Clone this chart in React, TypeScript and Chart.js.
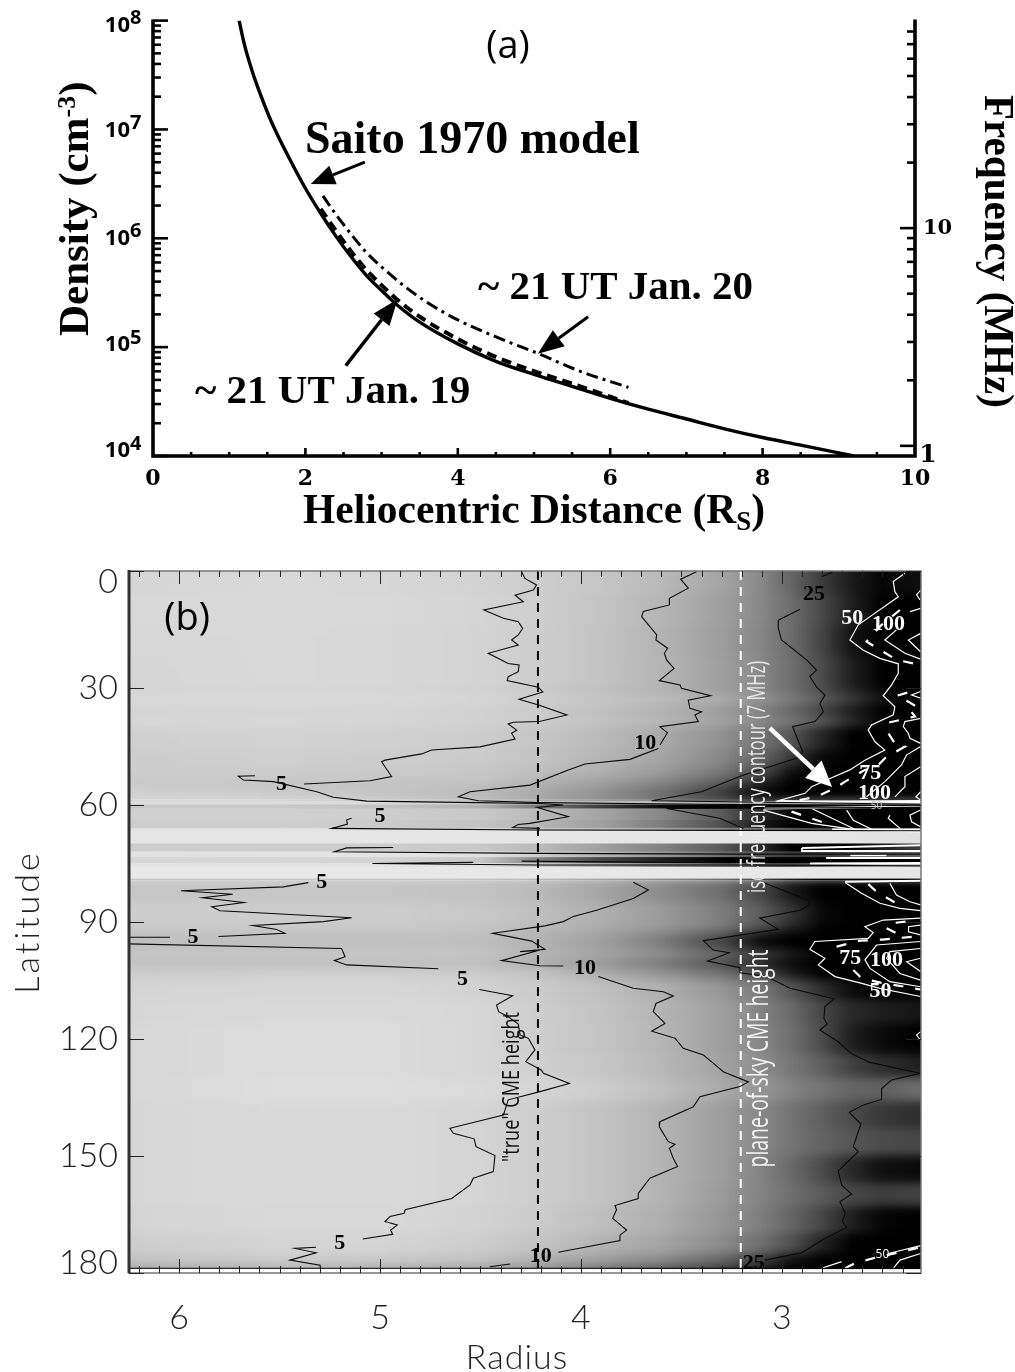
import React, { useEffect, useRef } from "react";
import { Chart, registerables } from "chart.js";

Chart.register(...registerables);

// ---------- Panel (a) data ----------
const saitoDistance = [1.13, 1.2, 1.3, 1.4, 1.5, 1.6, 1.8, 2.0, 2.2, 2.4, 2.6, 2.8, 3.0, 3.2, 3.5, 4.0, 4.5, 5.0, 5.5, 6.0, 6.5, 7.0, 7.5, 8.0, 8.5, 9.2];
const saitoLogDensity = [8.0, 7.78, 7.54, 7.34, 7.16, 7.0, 6.72, 6.46, 6.23, 6.02, 5.83, 5.66, 5.52, 5.39, 5.23, 5.03, 4.87, 4.75, 4.64, 4.53, 4.43, 4.34, 4.25, 4.17, 4.1, 4.0];
const jan19Distance = [2.2, 2.4, 2.6, 2.8, 3.0, 3.2, 3.5, 4.0, 4.5, 5.0, 5.5, 6.0, 6.24];
const jan19LogDensity = [6.27, 6.07, 5.88, 5.71, 5.57, 5.44, 5.28, 5.075, 4.91, 4.78, 4.665, 4.545, 4.485];
const jan20Distance = [2.23, 2.4, 2.62, 2.8, 3.06, 3.3, 3.6, 4.0, 4.55, 5.06, 5.6, 6.24];
const jan20LogDensity = [6.39, 6.22, 6.02, 5.87, 5.7, 5.56, 5.41, 5.25, 5.08, 4.94, 4.78, 4.63];
const densityTicks = [1e4, 1e5, 1e6, 1e7, 1e8];
const densityExponents = ["4", "5", "6", "7", "8"];
const distanceTicks = [0, 2, 4, 6, 8, 10];
const frequencyTicks = [1, 10];

// ---------- Panel (b) data ----------
const radiusTicks = [6, 5, 4, 3];
const latitudeTicks = [0, 30, 60, 90, 120, 150, 180];
const heatRadius = [6.25, 5.5, 5, 4.5, 4.2, 3.9, 3.6, 3.3, 3.1, 2.95, 2.8, 2.65, 2.5, 2.31];
const heatLat = [0, 6, 14, 22, 30, 32, 34, 38, 40, 46, 50, 53, 55, 57, 59, 60, 61, 64, 66, 66.6, 70, 72, 73.5, 75, 76, 79, 85, 91, 93, 97, 100, 102, 105, 110, 116, 124, 130, 136, 143, 150, 157, 163, 170, 175, 178];
const heatGray = [
  [214,216,215,210,205,198,185,165,135,100,60,25,5,15],
  [216,217,216,212,206,196,182,160,135,108,72,30,0,0],
  [215,216,215,211,205,195,180,158,132,108,68,18,0,0],
  [214,216,215,211,205,195,181,160,135,110,75,30,0,0],
  [212,214,213,209,203,192,180,160,135,110,78,40,8,0],
  [218,220,218,214,208,198,190,175,150,125,95,60,20,0],
  [212,214,213,209,203,192,180,158,130,105,70,30,0,0],
  [215,216,214,210,205,195,183,165,140,120,95,45,5,0],
  [208,210,208,205,197,186,170,145,115,85,35,0,0,0],
  [205,207,205,203,195,182,165,135,100,55,8,0,0,0],
  [205,205,203,200,190,176,155,120,75,15,0,0,0,0],
  [200,198,198,195,180,162,135,95,40,0,0,0,0,0],
  [205,200,195,188,172,150,120,70,15,0,0,0,0,0],
  [212,208,200,185,165,140,100,50,5,0,0,0,0,0],
  [220,220,218,205,190,185,190,170,140,180,190,190,190,190],
  [200,200,195,180,120,60,10,0,0,0,0,0,0,0],
  [208,208,206,200,185,165,135,90,40,5,0,0,0,0],
  [206,206,204,196,180,160,125,80,25,0,0,0,0,0],
  [225,225,222,215,200,190,170,140,110,90,70,70,70,70],
  [230,230,230,230,230,230,230,230,230,230,230,228,225,225],
  [205,205,205,200,185,160,130,90,40,0,0,0,30,60],
  [225,228,228,226,205,180,150,110,80,60,60,80,90,100],
  [215,215,212,200,130,70,30,0,0,0,0,0,0,0],
  [228,228,228,225,200,170,130,100,80,70,100,150,200,200],
  [232,232,232,232,232,232,232,232,232,232,232,232,230,230],
  [198,198,198,195,185,165,140,110,70,25,0,0,0,0],
  [205,205,205,200,190,175,155,125,90,50,8,0,0,0],
  [200,200,200,196,185,170,150,115,70,25,0,0,0,0],
  [192,192,192,190,178,160,125,70,10,0,0,0,0,0],
  [198,198,198,195,180,165,140,100,60,25,0,0,0,0],
  [192,192,190,188,172,150,118,75,35,5,0,0,0,0],
  [205,208,208,205,195,175,150,115,75,30,0,0,0,0],
  [212,214,214,210,203,192,176,150,120,85,45,10,0,0],
  [214,218,218,214,205,195,180,160,130,105,70,40,30,20],
  [216,220,220,214,205,196,182,160,135,110,75,30,10,0],
  [216,220,220,214,207,198,184,162,140,118,95,65,45,30],
  [216,222,222,218,212,205,190,170,150,130,115,100,95,110],
  [214,218,218,212,205,195,180,158,135,115,95,75,55,45],
  [214,218,218,212,205,195,180,158,135,115,98,85,75,70],
  [214,218,218,212,205,195,180,158,130,105,75,40,15,10],
  [214,218,218,212,205,195,180,155,130,110,90,70,60,65],
  [212,216,216,210,203,190,175,150,125,100,70,30,5,0],
  [205,212,212,205,195,180,165,140,110,80,35,0,0,0],
  [195,205,202,195,178,160,140,105,65,20,0,0,0,0],
  [170,180,175,165,145,120,90,60,25,0,0,0,0,0],
];

type P = [number, number];
const contour5a: P[] = [[4.295,0.2],[4.279,1.9],[4.221,3.6],[4.237,4.9],[4.328,6.2],[4.287,7.9],[4.483,10],[4.386,12.1],[4.312,13],[4.29,14.7],[4.312,16.4],[4.345,17.7],[4.312,19],[4.461,21.1],[4.362,23.7],[4.308,24.1],[4.312,25.8],[4.362,27.1],[4.367,28.1],[4.212,29.8],[4.19,31],[4.308,32.9],[4.207,34.4],[4.07,36.9],[4.207,38.6],[4.337,38.8],[4.362,39.2],[4.32,40.8],[4.345,41.6],[4.328,43.1],[4.503,45.1],[4.743,45.9],[4.793,46.9],[4.975,48.5],[4.992,48.9],[4.942,52.7],[5.05,53.8],[5.378,54.6]];
const contour5b: P[] = [[5.622,52.5],[5.705,52.6],[5.68,53.6],[5.53,54],[5.315,56.6],[5.232,58],[5.066,59],[4.519,59.4],[4.204,59.6],[4.088,60],[4.22,60.6],[4.063,63],[4.254,64.7],[4.312,65],[4.34,65.8],[4.204,66]];
const contour5c: P[] = [[5.141,63.4],[5.166,63.8],[5.162,64.9],[5.24,66],[4.22,66.4],[3.2,66.5],[2.31,66.6]];
const contour5d: P[] = [[4.934,70.9],[5.166,71],[5.227,72],[4.204,72.4],[3.2,72.6],[2.31,72.6]];
const contour5e: P[] = [[4.536,74.7],[5.038,75],[4.22,75.4],[3.192,75.4],[2.31,75.6]];
const contour5f: P[] = [[4.295,74.4],[3.258,74.8]];
const contour5g: P[] = [[5.357,79.9],[5.481,81],[5.99,82],[5.733,82.9],[5.882,83.8],[5.677,85],[5.837,86.1],[5.796,87.1],[5.141,88.9],[5.282,89.9],[5.633,90.9],[5.514,91.9],[5.473,92.9],[5.804,93.7]];
const contour5h: P[] = [[6.045,93.9],[6.25,93.9]];
const contour5i: P[] = [[6.25,95.6],[5.191,96.8],[5.174,98.9],[5.227,99.9],[5.166,101],[4.71,102]];
const contour5j: P[] = [[4.506,107.3],[4.34,108.9],[4.42,111.3],[4.41,113],[4.362,114.3],[4.312,116.2],[4.303,119],[4.262,119.8],[4.229,122.8],[4.275,125.8],[4.196,128],[4.187,128.8],[4.058,131.4],[4.204,133.5],[4.362,135.6],[4.386,139.5],[4.652,142.9],[4.635,144.2],[4.532,145.6],[4.522,147.6],[4.428,149.9],[4.436,154],[4.536,155.7],[4.552,157.4],[4.643,160.9],[4.875,163.8],[4.88,164.7],[4.95,165.5],[4.975,166.8],[4.914,167.7],[4.947,169],[4.937,170.1],[5.086,171.3]];
const contour5k: P[] = [[5.318,173.4],[5.423,173.7],[5.318,174.8],[5.448,176.7],[5.298,178],[5.298,178.6]];
const contour10a: P[] = [[3.425,0.2],[3.504,2.1],[3.466,4.4],[3.56,7],[3.56,8.7],[3.69,10.4],[3.698,11.7],[3.623,16.4],[3.627,17.7],[3.569,19.8],[3.585,21.1],[3.574,22.8],[3.537,25],[3.61,28.1],[3.507,29.2],[3.5,30.1],[3.355,32],[3.466,33.1],[3.458,35.2],[3.4,36.1],[3.433,36.9],[3.416,38.6],[3.607,39.9],[3.57,41.5],[3.607,44.6]];
const contour10b: P[] = [[3.615,45.5],[3.756,48.3],[3.98,49.5],[4.063,51],[4.254,54.9],[4.552,56.6],[4.61,57.9],[4.511,58.9],[4.204,59.4],[3.4,59.8],[2.31,60.2]];
const contour10c: P[] = [[2.31,60.6],[3.574,60.9],[3.309,63.4],[3.192,66]];
const contour10d: P[] = [[3.74,79.8],[3.665,81.8],[3.74,84],[3.922,87],[4.038,88.6],[4.088,89.9],[4.179,91],[4.439,92.9],[4.245,94.9],[4.179,97],[4.303,97.6],[4.204,97.2],[4.395,99.9],[4.204,101.2],[4.088,101.3]];
const contour10e: P[] = [[3.914,104],[3.74,107],[3.59,107.9],[3.541,109],[3.627,110.9],[3.64,113],[3.582,116],[3.648,118],[3.532,119.8],[3.491,122.4],[3.391,124.1],[3.342,126.2],[3.292,128.4],[3.167,131],[3.209,132.2],[3.408,134.8],[3.441,137.4],[3.607,141.2],[3.61,142.5],[3.566,146.3],[3.532,147],[3.56,148],[3.541,150.6],[3.519,152.7],[3.657,155.7],[3.715,159.6],[3.715,160.9],[3.831,162.7],[3.823,163.8],[3.842,166],[3.773,169],[3.806,170.3],[3.806,171.7],[4.113,174.7]];
const contour10f: P[] = [[4.353,177.7],[4.453,178.4]];
const contour25a: P[] = [[2.745,0.2],[2.803,1.5]];
const contour25b: P[] = [[2.91,9.8],[3.018,12.6],[3.018,14.7],[3.002,17.7],[2.877,22.8],[2.828,25.4],[2.861,27.1],[2.828,29.7],[2.786,31.8],[2.811,34],[2.794,36.1],[2.836,38.6],[2.947,39.9],[2.927,42.5],[2.897,46.3],[2.927,48],[3.192,52.3],[3.4,56.6],[3.648,58.9],[2.595,59.6],[2.31,59.8]];
const contour25c: P[] = [[3.093,79.9],[2.869,84.4],[2.861,85.6],[2.91,87],[3.11,89],[3.018,91.9],[3.391,94.8],[3.342,97.2],[3.262,97.9],[3.37,100],[3.209,101.7],[3.209,103],[3.076,104],[2.96,107],[2.741,109.7],[2.786,111.7],[2.791,114.7],[2.775,116.2],[2.811,117.7],[2.72,120.7],[2.653,123.8],[2.562,126],[2.313,128.8],[2.454,130.5],[2.504,132.7],[2.504,135.5],[2.595,136.9],[2.665,138.8],[2.607,141.8],[2.645,147.6],[2.62,148.9],[2.72,153.8],[2.703,157.4],[2.654,159.8],[2.711,161.7],[2.686,164.7],[2.698,166.8],[2.678,168.3],[2.794,171.4],[2.902,174.8],[3.085,176.7]];
const bottomEdge: P[] = [[6.25,178.8],[2.31,178.8]];
const blackContours: P[][] = [contour5a, contour5b, contour5c, contour5d, contour5e, contour5f, contour5g, contour5h, contour5i, contour5j, contour5k, contour10a, contour10b, contour10c, contour10d, contour10e, contour10f, contour25a, contour25b, contour25c, bottomEdge];

const white50a: P[] = [[2.388,0.6],[2.446,2.7],[2.438,5.3],[2.421,6.6],[2.479,8.7],[2.537,10.8],[2.62,13.8],[2.662,17.7],[2.595,20.3],[2.513,22.4],[2.421,23.8],[2.421,26.2],[2.454,29.2],[2.496,32],[2.438,34.8],[2.446,36.9],[2.554,39.5],[2.571,40.8],[2.537,43.8],[2.488,45.9],[2.587,48.5],[2.662,51],[2.761,53.2],[2.852,55.3],[2.885,57],[3.018,58.9],[2.31,59.4]];
const white100a: P[] = [[2.43,15.1],[2.488,17.7],[2.388,21.1],[2.31,22.6]];
const white100b: P[] = [[2.31,16],[2.371,17.7],[2.31,20.7]];
const white100c: P[] = [[2.31,9.6],[2.363,10.4]];
const white100d: P[] = [[2.31,4.9],[2.33,6.1],[2.313,7.4]];
const white100e: P[] = [[2.31,30.9],[2.355,31.8],[2.31,32.6]];
const white100f: P[] = [[2.31,37.8],[2.388,38.6],[2.396,39.9],[2.371,41.6],[2.363,42.9],[2.31,44.2]];
const white100g: P[] = [[2.31,45],[2.38,47.2],[2.405,49.7],[2.488,54],[2.579,57.9]];
const white100h: P[] = [[2.31,50.2],[2.388,52.7],[2.388,55.3],[2.438,57.9]];
const white100i: P[] = [[2.31,56.6],[2.333,57.9],[2.31,58.7]];
const white50b: P[] = [[3.093,61.3],[2.852,64.7],[2.629,66.4],[2.31,66.9]];
const white100j: P[] = [[2.852,60.9],[2.629,66.4]];
const white100k: P[] = [[2.678,61.3],[2.645,63.9],[2.546,66.4]];
const white100l: P[] = [[2.463,62.6],[2.471,63.4],[2.413,66]];
const white100m: P[] = [[2.31,61.3],[2.363,62.6],[2.355,64.3],[2.31,65.6]];
const white50c: P[] = [[2.686,79.9],[2.604,82.65],[2.512,85.2],[2.413,86.5],[2.31,87.1]];
const white75c: P[] = [[2.463,80.1],[2.43,83.1],[2.363,84.8],[2.31,85.6]];
const white50d: P[] = [[2.31,89],[2.496,89.5],[2.587,91.2],[2.546,92.7],[2.571,94.2],[2.836,95],[2.861,97],[2.786,99.3],[2.819,101],[2.736,104],[2.612,105.6],[2.513,107],[2.31,109.1]];
const white75d: P[] = [[2.31,95],[2.529,95.9],[2.587,99.7],[2.562,101.9],[2.463,105.3],[2.31,106.6]];
const white100n: P[] = [[2.31,96.8],[2.463,97.6],[2.479,99.3],[2.413,103.2],[2.31,104.9]];
const white100o: P[] = [[2.31,99.3],[2.38,100.2],[2.31,102.7]];
const white100p: P[] = [[2.31,90.8],[2.37,91.2],[2.37,92.5],[2.31,93.3]];
const white50e: P[] = [[2.803,178.8],[2.703,177.1]];
const white50f: P[] = [[2.471,175],[2.31,173]];
const white50g: P[] = [[2.446,178.8],[2.413,176.7],[2.31,175]];
const white50h: P[] = [[2.31,118.1],[2.33,119],[2.31,120.3]];
const whiteContours: P[][] = [white50a, white100a, white100b, white100c, white100d, white100e, white100f, white100g, white100h, white100i, white50b, white100j, white100k, white100l, white100m, white50c, white75c, white50d, white75d, white100n, white100o, white100p, white50e, white50f, white50g, white50h];

const whiteStreakA: P[] = [[3.03,59.2],[2.31,59]];
const whiteStreakB: P[] = [[3.09,60.9],[2.31,60.4]];
const whiteStreakC: P[] = [[2.75,66.3],[2.31,66.3]];
const whiteStreakD: P[] = [[2.9,71],[2.31,70.3]];
const whiteStreakE: P[] = [[2.9,71],[2.9,71.8],[2.31,71.8]];
const whiteStreakF: P[] = [[2.66,72.9],[2.48,72.9]];
const whiteStreakG: P[] = [[2.78,73.6],[2.31,73.6]];
const whiteStreakH: P[] = [[2.86,75],[2.31,74.9]];
const whiteStreakI: P[] = [[2.686,79.7],[2.31,79.4]];
const whiteStreaks: P[][] = [whiteStreakA, whiteStreakB, whiteStreakC, whiteStreakD, whiteStreakE, whiteStreakF, whiteStreakG, whiteStreakH, whiteStreakI];

const dash75a: P[] = [[2.413,10],[2.504,13.8],[2.579,18.1],[2.429,22.8],[2.31,24.1]];
const dash75b: P[] = [[2.376,31.2],[2.429,32],[2.371,33.5],[2.33,34.8],[2.363,35.6],[2.338,37.3],[2.413,38.2],[2.471,38.9],[2.471,41.6],[2.438,44.2],[2.388,45],[2.487,48],[2.529,50.2],[2.587,51],[2.686,54],[2.736,55.7],[2.828,57.9],[2.93,58.9]];
const dash75c: P[] = [[2.952,61.7],[2.761,65.1]];
const dash75d: P[] = [[2.728,96.3],[2.612,94.8],[2.5,94.5],[2.31,93.6]];
const dash75e: P[] = [[2.645,102.3],[2.612,104],[2.554,105],[2.504,105.6],[2.31,107.3]];
const dash75f: P[] = [[2.479,91.6],[2.43,92.9]];
const dash75g: P[] = [[2.686,178.8],[2.637,177.5],[2.529,176],[2.31,173.4]];
const dash75h: P[] = [[2.57,80.3],[2.53,82.2],[2.471,84],[2.43,85.2]];
const dash75i: P[] = [[2.434,90.2],[2.38,89.9]];
const whiteDashed: P[][] = [dash75a, dash75b, dash75c, dash75d, dash75e, dash75f, dash75g, dash75h, dash75i];

const trueHeightRadius = 4.214;
const skyHeightRadius = 3.205;

const blackLabelRadius = [5.49, 5.0, 5.29, 5.93, 4.59, 5.2, 3.68, 3.98, 4.2, 2.84, 3.14];
const blackLabelLat = [54.6, 63, 79.7, 93.8, 104.6, 172.3, 44.1, 102, 175.7, 5.9, 177.4];
const blackLabelText = ["5", "5", "5", "5", "5", "5", "10", "10", "10", "25", "25"];
const whiteLabelRadius = [2.65, 2.47, 2.56, 2.54, 2.66, 2.48, 2.51];
const whiteLabelLat = [12.1, 13.6, 52, 57, 99.2, 99.8, 107.7];
const whiteLabelText = ["50", "100", "75", "100", "75", "100", "50"];

// ---------- helpers ----------
const SERIF = '"Liberation Serif", serif';
const toXY = (xs: number[], logs: number[]) => xs.map((x, i) => ({ x, y: Math.pow(10, logs[i]) }));
const pairs = (list: P[]) => list.map(([x, y]) => ({ x, y }));

function arrow(ctx: any, x1: number, y1: number, x2: number, y2: number, color: string, lw: number, len: number, half: number) {
  const a = Math.atan2(y2 - y1, x2 - x1);
  const bx = x2 - len * Math.cos(a), by = y2 - len * Math.sin(a);
  ctx.save();
  ctx.strokeStyle = color;
  ctx.fillStyle = color;
  ctx.lineWidth = lw;
  ctx.beginPath();
  ctx.moveTo(x1, y1);
  ctx.lineTo(bx, by);
  ctx.stroke();
  ctx.beginPath();
  ctx.moveTo(x2, y2);
  ctx.lineTo(bx + half * Math.sin(a), by - half * Math.cos(a));
  ctx.lineTo(bx - half * Math.sin(a), by + half * Math.cos(a));
  ctx.closePath();
  ctx.fill();
  ctx.restore();
}

function text(ctx: any, s: string, x: number, y: number, font: string, color: string, opts: any = {}) {
  ctx.save();
  ctx.translate(x, y);
  if (opts.rot) ctx.rotate(opts.rot);
  ctx.font = font;
  ctx.fillStyle = color;
  ctx.textAlign = opts.align || "left";
  ctx.textBaseline = opts.base || "alphabetic";
  if (opts.spacing) ctx.letterSpacing = opts.spacing;
  if (opts.maxWidth) ctx.fillText(s, 0, 0, opts.maxWidth);
  else ctx.fillText(s, 0, 0);
  ctx.restore();
}

function runs(ctx: any, list: [string, string, number][], x: number, y: number, rot: number) {
  ctx.save();
  ctx.translate(x, y);
  ctx.rotate(rot);
  ctx.fillStyle = "#000";
  ctx.textAlign = "left";
  ctx.textBaseline = "alphabetic";
  let pos = 0;
  for (const [s, font, dy] of list) {
    ctx.font = font;
    ctx.fillText(s, pos, dy);
    pos += ctx.measureText(s).width;
  }
  ctx.restore();
}

const exponentShift = [-5, -2, 0, 1, 5];

const panelAPlugin = {
  id: "panelA",
  afterDatasetsDraw(chart: any) {
    const { ctx, chartArea: a, scales } = chart;
    const { x, y, yf } = scales;
    ctx.save();
    ctx.strokeStyle = "#000";
    ctx.lineCap = "butt";
    ctx.lineWidth = 3.6;
    ctx.beginPath();
    ctx.moveTo(a.left, a.top - 1);
    ctx.lineTo(a.left, a.bottom);
    ctx.lineTo(a.right, a.bottom);
    ctx.lineTo(a.right, a.top - 1);
    ctx.stroke();
    ctx.lineWidth = 2.6;
    for (let d = 4; d <= 8; d++) {
      for (let m = 1; m <= 9; m++) {
        const v = m * Math.pow(10, d);
        if (v > 1e8) break;
        const p = y.getPixelForValue(v);
        const len = m === 1 ? 15 : 8;
        ctx.beginPath();
        ctx.moveTo(a.left, p);
        ctx.lineTo(a.left + len, p);
        ctx.stroke();
      }
    }
    [1, 2, 3, 4, 5, 6, 7, 8, 9, 10, 20, 30, 40, 50, 60, 70, 80].forEach((v) => {
      const p = yf.getPixelForValue(v);
      const len = v === 1 || v === 10 ? 15 : 8;
      ctx.beginPath();
      ctx.moveTo(a.right, p);
      ctx.lineTo(a.right - len, p);
      ctx.stroke();
    });
    for (let i = 1; i < 20; i++) {
      const v = i / 2;
      const p = x.getPixelForValue(v);
      const len = i % 4 === 0 ? 8 : 4;
      ctx.beginPath();
      ctx.moveTo(p, a.bottom);
      ctx.lineTo(p, a.bottom - len);
      ctx.stroke();
    }
    ctx.restore();

    densityTicks.forEach((v, i) => {
      const p = y.getPixelForValue(v) + exponentShift[i];
      text(ctx, "10", 130, p, 'bold 22px "Open Sans"', "#000", { align: "right", base: "middle" });
      text(ctx, densityExponents[i], 130, p - 7, 'bold 20px "Open Sans"', "#000", { base: "middle" });
    });
    text(ctx, "1", 928, yf.getPixelForValue(1) + 10, 'bold 25px "DejaVu Serif"', "#000", { align: "center", base: "middle" });

    const px = (v: number) => x.getPixelForValue(v);
    const py = (l: number) => y.getPixelForValue(Math.pow(10, l));
    arrow(ctx, px(2.78), py(6.7), px(2.07), py(6.5), "#000", 3, 24, 10);
    arrow(ctx, px(2.53), py(4.83), px(3.21), py(5.44), "#000", 3.5, 26, 10);
    arrow(ctx, px(5.71), py(5.28), px(5.05), py(4.94), "#000", 3, 26, 10);

    text(ctx, "(a)", 508, 58, '38px "Open Sans"', "#000", { align: "center" });
    text(ctx, "Saito 1970 model", 305, 153, `bold 46px ${SERIF}`, "#000", { maxWidth: 336 });
    text(ctx, "~ 21 UT Jan. 20", 478, 299, `bold 41px ${SERIF}`, "#000", { maxWidth: 275 });
    text(ctx, "~ 21 UT Jan. 19", 195, 403, `bold 41px ${SERIF}`, "#000", { maxWidth: 276 });
    const bold = `bold 43px ${SERIF}`;
    const small = `bold 26px ${SERIF}`;
    runs(ctx, [["Density (cm", bold, 0], ["-3", small, -13], [")", bold, 0]], 88, 336, -Math.PI / 2);
    text(ctx, "Frequency (MHz)", 985, 95, bold, "#000", { rot: Math.PI / 2, maxWidth: 313 });
    runs(ctx, [["Heliocentric Distance (R", `bold 41.5px ${SERIF}`, 0], ["S", `bold 27px ${SERIF}`, 7], [")", `bold 41.5px ${SERIF}`, 0]], 303, 523, 0);
  },
};

const panelBBackground = {
  id: "panelBBackground",
  beforeDatasetsDraw(chart: any) {
    const { ctx, chartArea: a, scales } = chart;
    const { x, y } = scales;
    const off = document.createElement("canvas");
    off.width = chart.width;
    off.height = chart.height;
    const o = off.getContext("2d") as CanvasRenderingContext2D;
    const x0 = x.getPixelForValue(heatRadius[0]);
    const x1 = x.getPixelForValue(heatRadius[heatRadius.length - 1]);
    heatLat.forEach((lat, i) => {
      const next = i + 1 < heatLat.length ? heatLat[i + 1] : 180;
      const y0 = y.getPixelForValue(lat) - (i === 0 ? 25 : 0);
      const y1 = y.getPixelForValue(next) + (i === heatLat.length - 1 ? 25 : 0);
      const g = o.createLinearGradient(x0, 0, x1, 0);
      heatRadius.forEach((r, j) => {
        const t = (x.getPixelForValue(r) - x0) / (x1 - x0);
        const v = heatGray[i][j];
        g.addColorStop(Math.min(1, Math.max(0, t)), `rgb(${v},${v},${v})`);
      });
      o.fillStyle = g;
      o.fillRect(x0 - 25, y0 - 0.5, x1 - x0 + 50, y1 - y0 + 1);
    });
    const band = (top: number, bottom: number, blur: number) => {
      ctx.save();
      ctx.beginPath();
      ctx.rect(a.left, top, a.right - a.left, bottom - top);
      ctx.clip();
      ctx.filter = `blur(${blur}px)`;
      ctx.drawImage(off, 0, 0);
      ctx.filter = "none";
      ctx.restore();
    };
    const sharpTop = y.getPixelForValue(58.5);
    const sharpBottom = y.getPixelForValue(79.3);
    band(a.top, sharpTop, 4);
    band(sharpBottom, a.bottom, 4);
    band(sharpTop, sharpBottom, 0.7);
  },
  afterDatasetsDraw(chart: any) {
    const { ctx, chartArea: a, scales } = chart;
    const { x, y } = scales;
    const px = (v: number) => x.getPixelForValue(v);
    const py = (v: number) => y.getPixelForValue(v);

    ctx.save();
    ctx.fillStyle = "#fff";
    ctx.fillRect(a.left, py(179.0), a.right - a.left, a.bottom - py(179.0));
    ctx.restore();

    blackLabelText.forEach((s, i) => {
      text(ctx, s, px(blackLabelRadius[i]), py(blackLabelLat[i]), `bold 22px ${SERIF}`, "#000", { align: "center", base: "middle" });
    });
    whiteLabelText.forEach((s, i) => {
      text(ctx, s, px(whiteLabelRadius[i]), py(whiteLabelLat[i]), `bold 22px ${SERIF}`, "#fff", { align: "center", base: "middle" });
    });
    text(ctx, "50", px(2.5), py(175.2), '12px "Open Sans"', "#fff", { align: "center", base: "middle" });
    text(ctx, "50", px(2.53), py(60.2), '10px "Open Sans"', "#ccc", { align: "center", base: "middle" });

    arrow(ctx, px(3.06), py(40.3), px(2.75), py(55.4), "#fff", 4.5, 26, 12);
    text(ctx, "(b)", px(5.96), py(11.8) + 13, '38px "Open Sans"', "#000", { align: "center" });
    text(ctx, "iso-frequency contour (7 MHz)", px(3.12), py(52.8), '25px "Open Sans"', "#e8e8e8", { rot: -Math.PI / 2, align: "center", base: "middle", maxWidth: 232 });
    text(ctx, "plane-of-sky CME height", px(3.11), py(125), '30px "Open Sans"', "#f2f2f2", { rot: -Math.PI / 2, align: "center", base: "middle", maxWidth: 218 });
    text(ctx, '"true" CME height', px(4.34), py(132.3), '23px "Open Sans"', "#111", { rot: -Math.PI / 2, align: "center", base: "middle", maxWidth: 150 });

    const thin = '300 34px Lato';
    latitudeTicks.forEach((l, i) => {
      const shift = i === 0 ? 11 : i === latitudeTicks.length - 1 ? -10 : 0;
      text(ctx, String(l), 118, py(l) + shift, thin, "#222", { align: "right", base: "middle" });
    });
    text(ctx, "Radius", 517, 1358 - 540, thin, "#222", { align: "center", base: "middle", spacing: "1px" });
    text(ctx, "Latitude", 28, py(90), thin, "#222", { rot: -Math.PI / 2, align: "center", base: "middle", spacing: "3px" });

    ctx.save();
    ctx.strokeStyle = "#777";
    ctx.lineWidth = 1.5;
    ctx.strokeRect(a.left, a.top, a.right - a.left, a.bottom - a.top);
    ctx.strokeStyle = "#333";
    ctx.lineWidth = 3;
    ctx.beginPath();
    ctx.moveTo(a.left, a.top - 1);
    ctx.lineTo(a.left, a.bottom);
    ctx.stroke();
    ctx.strokeStyle = "#222";
    ctx.lineWidth = 1;
    for (let i = 24; i <= 62; i++) {
      const r = i / 10;
      const p = Math.round(px(r)) + 0.5;
      const len = i % 10 === 0 ? 13 : 6;
      ctx.beginPath();
      ctx.moveTo(p, a.top);
      ctx.lineTo(p, a.top + len);
      ctx.moveTo(p, a.bottom);
      ctx.lineTo(p, a.bottom - len - 1);
      ctx.stroke();
    }
    latitudeTicks.forEach((l) => {
      const p = Math.round(py(l)) + 0.5;
      ctx.beginPath();
      ctx.moveTo(a.left, p);
      ctx.lineTo(a.left + 15, p);
      ctx.moveTo(a.right, p);
      ctx.lineTo(a.right - 15, p);
      ctx.stroke();
    });
    ctx.restore();
  },
};

export default function App() {
  const topRef = useRef<HTMLCanvasElement>(null);
  const botRef = useRef<HTMLCanvasElement>(null);

  useEffect(() => {
    const top = new Chart(topRef.current as HTMLCanvasElement, {
      type: "scatter",
      data: {
        datasets: [
          { label: "~ 21 UT Jan. 19", data: toXY(jan19Distance, jan19LogDensity), showLine: true, borderColor: "#000", borderWidth: 4, borderDash: [10, 6], pointRadius: 0, cubicInterpolationMode: "monotone" },
          { label: "Saito 1970 model", data: toXY(saitoDistance, saitoLogDensity), showLine: true, borderColor: "#000", borderWidth: 3.4, pointRadius: 0, cubicInterpolationMode: "monotone" },
          { label: "~ 21 UT Jan. 20", data: toXY(jan20Distance, jan20LogDensity), showLine: true, borderColor: "#000", borderWidth: 3, borderDash: [12, 5, 3, 5], pointRadius: 0, cubicInterpolationMode: "monotone" },
        ] as any,
      },
      plugins: [panelAPlugin],
      options: {
        animation: false,
        responsive: false,
        events: [],
        layout: { padding: { top: 19 } },
        plugins: { legend: { display: false }, tooltip: { enabled: false } },
        scales: {
          x: {
            type: "linear",
            min: 0,
            max: 10,
            grid: { display: false, drawTicks: false },
            border: { display: false },
            afterBuildTicks: (s: any) => { s.ticks = distanceTicks.map((value) => ({ value })); },
            afterFit: (s: any) => { s.height = 84; },
            ticks: { autoSkip: false, maxRotation: 0, padding: 10, color: "#000", font: { family: "DejaVu Serif", weight: "bold", size: 22 } },
          },
          y: {
            type: "logarithmic",
            position: "left",
            min: 1e4,
            max: 1e8,
            grid: { display: false, drawTicks: false },
            border: { display: false },
            afterBuildTicks: (s: any) => { s.ticks = densityTicks.map((value) => ({ value })); },
            afterFit: (s: any) => { s.width = 153; },
            ticks: { autoSkip: false, padding: 10, color: "#000", font: { size: 10 }, callback: () => "" },
          },
          yf: {
            type: "logarithmic",
            position: "right",
            min: 0.898,
            max: 89.8,
            grid: { display: false, drawTicks: false },
            border: { display: false },
            afterBuildTicks: (s: any) => { s.ticks = frequencyTicks.map((value) => ({ value })); },
            afterFit: (s: any) => { s.width = 100; },
            ticks: {
              autoSkip: false,
              padding: 8,
              color: "#000",
              font: { family: "DejaVu Serif", weight: "bold", size: 21 },
              callback: (v: any) => (Number(v) === 10 ? "10" : ""),
            },
          },
        },
      } as any,
    });

    const solid = blackContours.map((c) => ({ data: pairs(c), showLine: true, borderColor: "#0a0a0a", borderWidth: 1.1, pointRadius: 0 }));
    const white = whiteContours.map((c) => ({ data: pairs(c), showLine: true, borderColor: "#fff", borderWidth: 1.2, pointRadius: 0 }));
    const streaks = whiteStreaks.map((c) => ({ data: pairs(c), showLine: true, borderColor: "#fff", borderWidth: 2, pointRadius: 0 }));
    const dashed = whiteDashed.map((c) => ({ data: pairs(c), showLine: true, borderColor: "#fff", borderWidth: 2.2, borderDash: [10, 12], pointRadius: 0 }));
    const bottom = new Chart(botRef.current as HTMLCanvasElement, {
      type: "scatter",
      data: {
        datasets: [
          ...solid,
          ...white,
          ...streaks,
          ...dashed,
          { data: pairs([[trueHeightRadius, 0], [trueHeightRadius, 180]]), showLine: true, borderColor: "#000", borderWidth: 2, borderDash: [9, 7], pointRadius: 0 },
          { data: pairs([[skyHeightRadius, 0], [skyHeightRadius, 180]]), showLine: true, borderColor: "#fff", borderWidth: 2, borderDash: [9, 7], pointRadius: 0 },
        ] as any,
      },
      plugins: [panelBBackground],
      options: {
        animation: false,
        responsive: false,
        events: [],
        layout: { padding: { top: 31, right: 94 } },
        plugins: { legend: { display: false }, tooltip: { enabled: false } },
        scales: {
          x: {
            type: "linear",
            reverse: true,
            min: 2.308,
            max: 6.249,
            grid: { display: false, drawTicks: false },
            border: { display: false },
            afterBuildTicks: (s: any) => { s.ticks = radiusTicks.map((value) => ({ value })); },
            afterFit: (s: any) => { s.height = 99; },
            ticks: { autoSkip: false, maxRotation: 0, padding: 25, color: "#222", font: { family: "Lato", weight: "300", size: 34 }, callback: (v: any) => String(v) },
          },
          y: {
            type: "linear",
            reverse: true,
            min: 0,
            max: 180,
            grid: { display: false, drawTicks: false },
            border: { display: false },
            afterBuildTicks: (s: any) => { s.ticks = latitudeTicks.map((value) => ({ value })); },
            afterFit: (s: any) => { s.width = 129; },
            ticks: { autoSkip: false, padding: 11, font: { size: 10 }, callback: () => "" },
          },
        },
      } as any,
    });
    return () => {
      top.destroy();
      bottom.destroy();
    };
  }, []);

  return (
    <div style={{ position: "absolute", left: 0, top: 0, width: 1015, height: 1372, overflow: "hidden", background: "#fff" }}>
      <canvas ref={topRef} width={1015} height={540} style={{ position: "absolute", left: 0, top: 0, width: 1015, height: 540 }} />
      <canvas ref={botRef} width={1015} height={832} style={{ position: "absolute", left: 0, top: 540, width: 1015, height: 832 }} />
    </div>
  );
}
